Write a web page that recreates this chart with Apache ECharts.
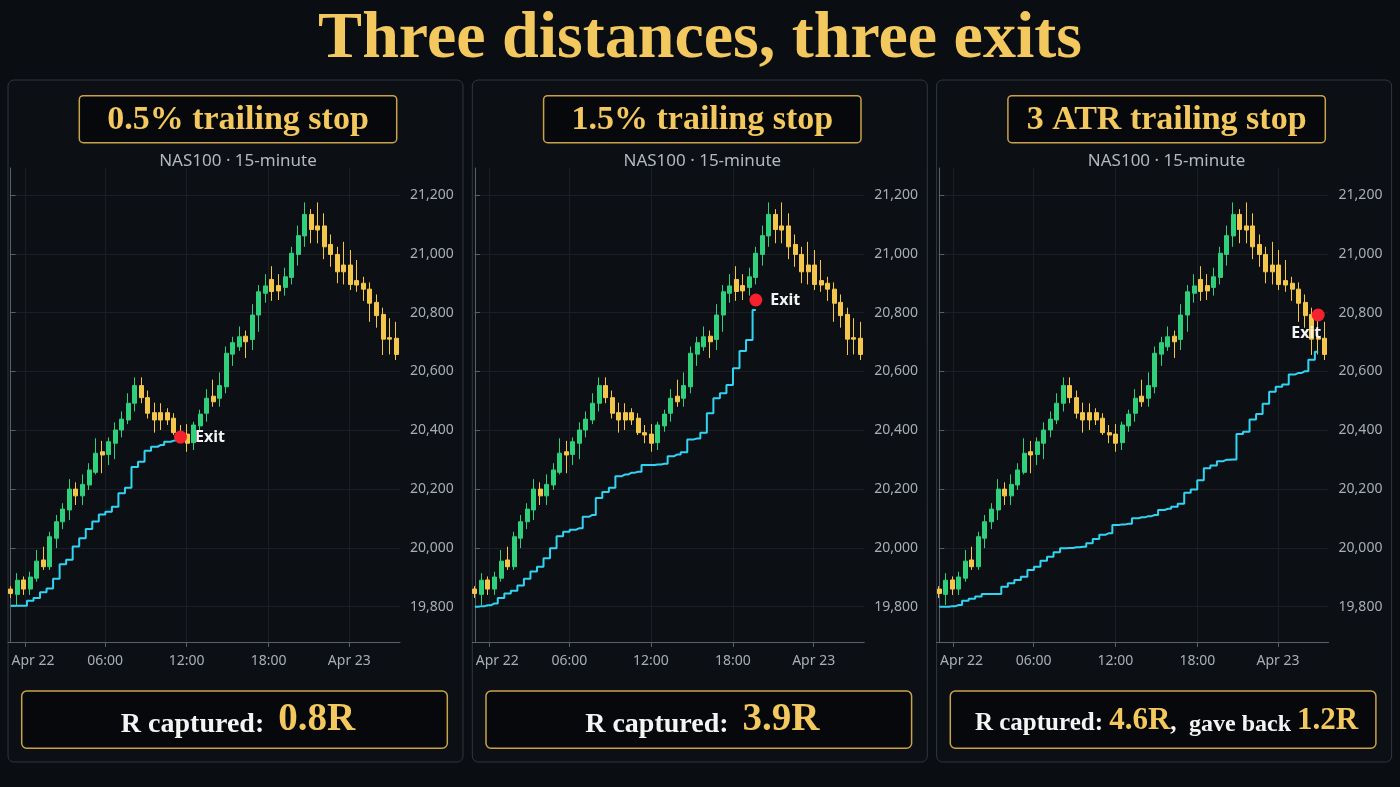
<!DOCTYPE html>
<html>
<head>
<meta charset="utf-8">
<title>Three distances, three exits</title>
<script src="https://cdn.jsdelivr.net/npm/echarts@6.0.0/dist/echarts.min.js"></script>
<style>
  html, body { margin: 0; padding: 0; background: #0a0d11; }
  #chart { width: 1400px; height: 787px; }
</style>
</head>
<body>
<div id="chart"></div>
<script>
// NAS100 15-minute candles (open / close / low / high)
var candleOpen = [19860, 19842, 19891, 19860, 19897, 19959, 19936, 20033, 20089, 20129,
  20200, 20177, 20214, 20257, 20327, 20318, 20356, 20401, 20435, 20492,
  20552, 20511, 20460, 20460, 20460, 20441, 20392, 20387, 20358, 20415,
  20458, 20516, 20509, 20548, 20659, 20684, 20720, 20709, 20792, 20866,
  20913, 20892, 20886, 20920, 20998, 21061, 21134, 21095, 21095, 21032,
  20998, 20962, 20962, 20909, 20900, 20880, 20835, 20794, 20715, 20713];
var candleClose = [19845, 19890, 19860, 19901, 19955, 19936, 20038, 20089, 20132, 20200,
  20177, 20216, 20265, 20322, 20316, 20361, 20401, 20438, 20492, 20552,
  20511, 20458, 20435, 20435, 20435, 20392, 20384, 20356, 20418, 20455,
  20509, 20497, 20552, 20662, 20698, 20718, 20701, 20792, 20871, 20891,
  20872, 20874, 20922, 21002, 21062, 21134, 21083, 21081, 21024, 20998,
  20939, 20939, 20896, 20894, 20880, 20832, 20790, 20710, 20710, 20658];
var candleLow = [19830, 19806, 19840, 19840, 19885, 19925, 19925, 19999, 20064, 20095,
  20146, 20146, 20197, 20250, 20254, 20282, 20302, 20376, 20421, 20464,
  20492, 20440, 20392, 20401, 20418, 20384, 20356, 20327, 20333, 20395,
  20429, 20480, 20480, 20526, 20619, 20670, 20646, 20673, 20735, 20834,
  20840, 20843, 20858, 20896, 20960, 21024, 21036, 21036, 20982, 20956,
  20900, 20896, 20877, 20871, 20840, 20769, 20749, 20656, 20658, 20639];
var candleHigh = [19870, 19914, 19903, 19919, 19993, 20004, 20055, 20112, 20152, 20234,
  20223, 20250, 20288, 20373, 20364, 20376, 20427, 20464, 20526, 20580,
  20580, 20535, 20494, 20492, 20475, 20458, 20418, 20421, 20429, 20470,
  20540, 20572, 20597, 20685, 20718, 20753, 20739, 20829, 20894, 20931,
  20958, 20931, 20953, 21024, 21096, 21175, 21152, 21175, 21138, 21066,
  21024, 21041, 21013, 20979, 20922, 20903, 20862, 20817, 20781, 20769];

// trailing stop level per candle, from entry to exit
var stopHalfPct = [19803, 19803, 19803, 19820, 19830, 19849, 19862, 19895, 19944, 19960,
  20005, 20033, 20064, 20090, 20114, 20123, 20140, 20186, 20205, 20275,
  20293, 20330, 20344, 20350, 20361, 20365, 20377];
var stopOneHalfPct = [19800, 19802, 19805, 19811, 19830, 19845, 19854, 19872, 19895, 19920,
  19936, 19965, 19999, 20040, 20055, 20062, 20067, 20106, 20112, 20170,
  20190, 20205, 20244, 20250, 20256, 20259, 20282, 20282, 20284, 20286,
  20312, 20318, 20325, 20369, 20372, 20392, 20458, 20509, 20526, 20554,
  20611, 20670, 20707, 20809];
var stopThreeAtr = [19800, 19800, 19802, 19806, 19820, 19827, 19835, 19843, 19843, 19843,
  19868, 19880, 19891, 19902, 19925, 19936, 19956, 19970, 19985, 19999,
  20000, 20002, 20004, 20016, 20030, 20045, 20050, 20078, 20080, 20082,
  20101, 20104, 20108, 20112, 20129, 20133, 20140, 20150, 20188, 20199,
  20230, 20271, 20280, 20295, 20300, 20301, 20387, 20395, 20437, 20455,
  20490, 20531, 20548, 20556, 20590, 20595, 20601, 20640, 20667];

var exitIndex = [26, 43, 58];
var exitPrice = [20377, 20843, 20792];

// time labels sit between candles, so they are kept as candle positions
var timeTickIndex = [2.2, 14.45, 26.95, 39.5, 51.85];
var timeTickLabels = ['Apr 22', '06:00', '12:00', '18:00', 'Apr 23'];
var priceTicks = [19800, 20000, 20200, 20400, 20600, 20800, 21000, 21200];

var panelTitles = ['0.5% trailing stop', '1.5% trailing stop', '3 ATR trailing stop'];
var capturedR = ['0.8R', '3.9R', '4.6R'];
var gaveBackR = ['', '', '1.2R'];

var GOLD = '#f3c85e';
var UP = '#2fcf7b';
var DOWN = '#f4c64c';
var AXIS = '#5a6068';
var LABEL = '#a9aeb6';
var SERIF = '"Liberation Serif", "Times New Roman", serif';
var SANS = '"Noto Sans", "Open Sans", sans-serif';

var candleRows = candleOpen.map(function (o, i) {
  return [i, o, candleClose[i], candleLow[i], candleHigh[i]];
});
var stops = [stopHalfPct, stopOneHalfPct, stopThreeAtr];

function timeLabel(v) {
  var best = 0;
  for (var j = 1; j < timeTickIndex.length; j++) {
    if (Math.abs(timeTickIndex[j] - v) < Math.abs(timeTickIndex[best] - v)) best = j;
  }
  // first label is nudged inside the plot, like the original
  return best === 0 ? '{first|' + timeTickLabels[0] + '}' : timeTickLabels[best];
}

var grids = [], xAxes = [], yAxes = [], series = [], graphics = [];

graphics.push({
  type: 'text',
  z: 10,
  style: {
    text: 'Three distances, three exits',
    x: 700, y: 40,
    fill: GOLD,
    font: 'bold 66px ' + SERIF,
    align: 'center', verticalAlign: 'middle',
    textAlign: 'center', textVerticalAlign: 'middle'
  }
});

for (var k = 0; k < 3; k++) {
  var left = 8 + 464.3 * k;

  graphics.push({
    type: 'rect', z: -10,
    shape: { x: left, y: 80, width: 455, height: 682, r: 6 },
    style: { fill: '#0c1015', stroke: '#31373f', lineWidth: 1 }
  });
  graphics.push({
    type: 'rect', z: 1,
    shape: { x: left + 71.3, y: 95.7, width: 317.4, height: 47, r: 4 },
    style: { fill: '#06080b', stroke: '#c9a24b', lineWidth: 1.5 }
  });
  graphics.push({
    type: 'text', z: 10,
    style: {
      text: panelTitles[k], x: left + 230, y: 120.5,
      fill: GOLD, font: 'bold 34px ' + SERIF,
      align: 'center', verticalAlign: 'middle',
      textAlign: 'center', textVerticalAlign: 'middle'
    }
  });
  graphics.push({
    type: 'text', z: 10,
    style: {
      text: 'NAS100 · 15-minute', x: left + 230, y: 161.5,
      fill: '#b3b8c0', font: '17px ' + SANS,
      align: 'center', verticalAlign: 'middle',
      textAlign: 'center', textVerticalAlign: 'middle'
    }
  });
  graphics.push({
    type: 'rect', z: 1,
    shape: { x: left + 13.7, y: 691, width: 425.6, height: 57.3, r: 5 },
    style: { fill: '#06080b', stroke: '#c9a24b', lineWidth: 1.5 }
  });

  var resultText, rich;
  if (gaveBackR[k]) {
    resultText = '{w|R captured: }{g|' + capturedR[k] + '}{w|,  }{s|gave back }{g|' + gaveBackR[k] + '}';
    rich = {
      w: { fill: '#f4f4f4', font: 'bold 25px ' + SERIF, lineHeight: 25, verticalAlign: 'bottom' },
      s: { fill: '#f4f4f4', font: 'bold 24px ' + SERIF, lineHeight: 24, verticalAlign: 'bottom' },
      g: { fill: GOLD, font: 'bold 31px ' + SERIF, lineHeight: 31, verticalAlign: 'bottom' }
    };
  } else {
    resultText = '{w|R captured:  }{g|' + capturedR[k] + '}';
    rich = {
      w: { fill: '#f4f4f4', font: 'bold 28px ' + SERIF, lineHeight: 28, verticalAlign: 'bottom' },
      g: { fill: GOLD, font: 'bold 39px ' + SERIF, lineHeight: 39, verticalAlign: 'bottom' }
    };
  }
  graphics.push({
    type: 'text', z: 10,
    style: {
      text: resultText, x: left + 230, y: gaveBackR[k] ? 721 : 719.6,
      font: 'bold 28px ' + SERIF,
      align: 'center', verticalAlign: 'middle',
      textAlign: 'center', textVerticalAlign: 'middle',
      rich: rich
    }
  });

  grids.push({ left: left, top: 168, width: 392, height: 474 });

  xAxes.push({
    gridIndex: k, type: 'value', min: -0.4, max: 59.6,
    axisLine: { show: true, lineStyle: { color: AXIS } },
    axisTick: { show: true, length: 5, customValues: timeTickIndex, lineStyle: { color: AXIS } },
    axisLabel: {
      customValues: timeTickIndex, formatter: timeLabel, color: LABEL,
      fontSize: 14, fontFamily: SANS, margin: 12,
      rich: { first: { color: LABEL, fontSize: 14, fontFamily: SANS, padding: [0, 0, 0, 16] } }
    },
    splitLine: { show: true, lineStyle: { color: '#1a1f26' } }
  });
  yAxes.push({
    gridIndex: k, type: 'value', position: 'right', min: 19680, max: 21292,
    axisLine: { show: true, lineStyle: { color: AXIS } },
    axisTick: { show: true, length: 5, customValues: priceTicks, lineStyle: { color: AXIS } },
    axisLabel: { customValues: priceTicks, color: LABEL, fontSize: 14, fontFamily: SANS, margin: 10,
                 formatter: function (v) { return v.toLocaleString('en-US'); } },
    splitLine: { show: true, lineStyle: { color: '#1a1f26' } }
  });

  series.push({
    type: 'candlestick', xAxisIndex: k, yAxisIndex: k,
    data: candleRows,
    encode: { x: 0, y: [1, 2, 3, 4] },
    barWidth: 4.5,
    itemStyle: { color: UP, color0: DOWN, borderColor: UP, borderColor0: DOWN, borderWidth: 1 }
  });
  series.push({
    type: 'line', xAxisIndex: k, yAxisIndex: k,
    data: stops[k].map(function (v, i) { return [i, v]; }),
    step: 'middle', showSymbol: false, z: 3,
    lineStyle: { color: '#30d4f2', width: 2 }
  });
  series.push({
    type: 'scatter', xAxisIndex: k, yAxisIndex: k, z: 5,
    data: [[exitIndex[k], exitPrice[k]]],
    symbolSize: 13,
    itemStyle: { color: '#f5222d', opacity: 1 },
    label: {
      show: true, formatter: 'Exit', color: '#f4f4f4', fontSize: 16, fontWeight: 'bold',
      fontFamily: SANS,
      position: k === 2 ? 'bottom' : 'right', distance: k === 2 ? 4 : 8,
      offset: k === 2 ? [-12, 0] : [0, 0]
    }
  });
}

var chart = echarts.init(document.getElementById('chart'));
chart.setOption({
  animation: false,
  backgroundColor: '#0a0d11',
  grid: grids,
  xAxis: xAxes,
  yAxis: yAxes,
  series: series,
  graphic: { elements: graphics }
});
</script>
</body>
</html>
